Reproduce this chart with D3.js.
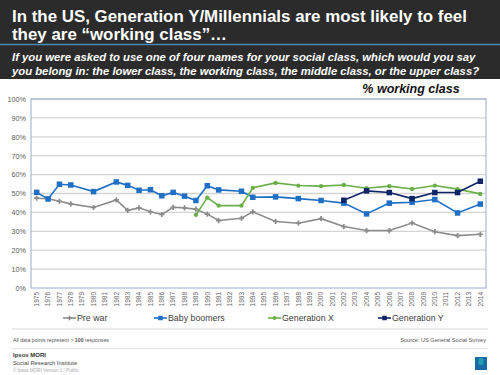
<!DOCTYPE html>
<html>
<head>
<meta charset="utf-8">
<script src="https://cdn.jsdelivr.net/npm/d3@7"></script>
<style>
  body { margin: 0; background: #fff; }
  svg { display: block; font-family: Arial, "Liberation Sans", sans-serif; }
</style>
</head>
<body>
<svg id="chart"></svg>
<script>
// survey years shown on the axis
const years = d3.range(1975, 2015).map(String);

// % working class by generation, [year, value]
const preWar = [[1975,47.5],[1976,47.2],[1977,45.9],[1978,44.5],[1980,42.6],[1982,46.6],[1983,41.1],[1984,42.4],[1985,40.3],[1986,38.9],[1987,42.7],[1988,42.4],[1989,41.7],[1990,39.1],[1991,35.7],[1993,36.9],[1994,40.3],[1996,35.2],[1998,34.3],[2000,36.7],[2002,32.5],[2004,30.4],[2006,30.4],[2008,34.4],[2010,29.8],[2012,27.7],[2014,28.4]];
const babyBoomers = [[1975,50.6],[1976,47.1],[1977,54.9],[1978,54.5],[1980,51],[1982,56.1],[1983,54.3],[1984,51.7],[1985,52],[1986,48.8],[1987,50.6],[1988,48.6],[1989,46.3],[1990,54.1],[1991,51.9],[1993,51.2],[1994,48],[1996,48.2],[1998,47.3],[2000,46.3],[2002,44.9],[2004,39.2],[2006,44.9],[2008,45.4],[2010,46.8],[2012,39.7],[2014,44.4]];
const genX = [[1989,38.7],[1990,47.8],[1991,43.6],[1993,43.6],[1994,53],[1996,55.6],[1998,54.2],[2000,53.9],[2002,54.5],[2004,52.8],[2006,53.9],[2008,52.4],[2010,54.2],[2012,52.3],[2014,49.8]];
const genY = [[2002,46.4],[2004,51.4],[2006,50.5],[2008,47.3],[2010,50.5],[2012,50.5],[2014,56.5]];

const yTicks = d3.range(0, 101, 10);

const series = [
  { name: "Pre war", data: preWar, color: "#8c8c8c", shape: "cross" },
  { name: "Baby boomers", data: babyBoomers, color: "#1f6fc5", shape: "square" },
  { name: "Generation X", data: genX, color: "#6aaf4a", shape: "circle" },
  { name: "Generation Y", data: genY, color: "#0f2466", shape: "square" }
];

const W = 500, H = 375;
const plot = { left: 31, right: 486, top: 99, bottom: 288 };

const svg = d3.select("#chart").attr("width", W).attr("height", H);

// header band
svg.append("rect").attr("x", 0).attr("y", 0).attr("width", W).attr("height", 79).attr("fill", "#2b2b2b");
svg.append("line").attr("x1", 0).attr("x2", W).attr("y1", 44.5).attr("y2", 44.5)
  .attr("stroke", "#4a86b4").attr("stroke-width", 1.5);

const title = svg.append("text").attr("fill", "#fff").attr("font-size", 16.9).attr("font-weight", "bold");
title.append("tspan").attr("x", 12).attr("y", 22).text("In the US, Generation Y/Millennials are most likely to feel");
title.append("tspan").attr("x", 12).attr("y", 40).text("they are \u201cworking class\u201d\u2026");

const sub = svg.append("text").attr("fill", "#fff").attr("font-size", 11.3)
  .attr("font-weight", "bold").attr("font-style", "italic");
sub.append("tspan").attr("x", 12).attr("y", 61).text("If you were asked to use one of four names for your social class, which would you say");
sub.append("tspan").attr("x", 12).attr("y", 74.5).text("you belong in: the lower class, the working class, the middle class, or the upper class?");

svg.append("text").attr("x", 411).attr("y", 93).attr("text-anchor", "middle")
  .attr("font-size", 12.5).attr("font-weight", "bold").attr("font-style", "italic")
  .attr("fill", "#111").text("% working class");

// scales
const x = d3.scaleBand().domain(years).range([plot.left, plot.right]);
const y = d3.scaleLinear().domain([0, 100]).range([plot.bottom, plot.top]);
const cx = yr => x(String(yr)) + x.bandwidth() / 2;

// gridlines
svg.append("g").selectAll("line").data(yTicks.filter(d => d > 0)).join("line")
  .attr("x1", plot.left).attr("x2", plot.right)
  .attr("y1", d => y(d)).attr("y2", d => y(d))
  .attr("stroke", "#d4d4d4").attr("stroke-width", 1.3);

// frame
svg.append("rect").attr("x", plot.left).attr("y", plot.top)
  .attr("width", plot.right - plot.left).attr("height", plot.bottom - plot.top)
  .attr("fill", "none").attr("stroke", "#9aaccb").attr("stroke-width", 1);

// y axis
const yAxis = svg.append("g").attr("transform", `translate(${plot.left},0)`)
  .call(d3.axisLeft(y).tickValues(yTicks).tickFormat(d => d + "%").tickSize(0).tickPadding(5));
yAxis.select(".domain").remove();
yAxis.selectAll("text").attr("font-size", 7.2).attr("fill", "#595959").attr("font-family", "Arial, sans-serif");

// x axis
const xAxis = svg.append("g").attr("transform", `translate(0,${plot.bottom})`)
  .call(d3.axisBottom(x).tickSize(0));
xAxis.select(".domain").remove();
xAxis.selectAll("text")
  .attr("font-size", 6.5).attr("fill", "#666").attr("font-family", "Arial, sans-serif")
  .attr("transform", "rotate(-90)")
  .attr("text-anchor", "end")
  .attr("x", -4).attr("y", 0).attr("dy", "0.35em");

// marker helper
function marker(g, shape, color, size) {
  if (shape === "square") {
    g.append("rect").attr("x", -size / 2).attr("y", -size / 2).attr("width", size).attr("height", size).attr("fill", color);
  } else if (shape === "circle") {
    g.append("circle").attr("r", size / 2.3).attr("fill", color);
  } else {
    g.append("path").attr("d", d3.symbol(d3.symbolCross, size * size * 0.6)()).attr("fill", color);
  }
}

const line = d3.line().x(d => cx(d[0])).y(d => y(d[1]));

series.forEach(s => {
  svg.append("path").datum(s.data).attr("d", line)
    .attr("fill", "none").attr("stroke", s.color).attr("stroke-width", 1.6);
  svg.append("g").selectAll("g").data(s.data).join("g")
    .attr("transform", d => `translate(${cx(d[0])},${y(d[1])})`)
    .each(function () { marker(d3.select(this), s.shape, s.color, s.shape === "square" ? 5.5 : 5); });
});

// legend
const legendX = [63, 154, 268, 378];
const leg = svg.append("g").selectAll("g").data(series).join("g")
  .attr("transform", (d, i) => `translate(${legendX[i]},318)`);
leg.append("line").attr("x1", 0).attr("x2", 13).attr("stroke", d => d.color).attr("stroke-width", 1.6);
leg.each(function (d) {
  const m = d3.select(this).append("g").attr("transform", "translate(6.5,0)");
  marker(m, d.shape, d.color, 4.5);
});
leg.append("text").attr("x", 14).attr("y", 0).attr("dy", "0.35em")
  .attr("font-size", 8.8).attr("fill", "#404040").text(d => d.name);

// footer
svg.append("line").attr("x1", 12).attr("x2", 488).attr("y1", 329).attr("y2", 329).attr("stroke", "#d9d9d9");
svg.append("line").attr("x1", 12).attr("x2", 488).attr("y1", 348.5).attr("y2", 348.5).attr("stroke", "#e3e3e3");
const note = svg.append("text").attr("x", 13).attr("y", 342).attr("font-size", 5.2).attr("fill", "#555");
note.append("tspan").text("All data points represent  > ");
note.append("tspan").attr("font-weight", "bold").text("100");
note.append("tspan").text(" responses");
svg.append("text").attr("x", 486).attr("y", 342).attr("text-anchor", "end")
  .attr("font-size", 5.6).attr("fill", "#555").text("Source: US General Social Survey");
svg.append("text").attr("x", 13).attr("y", 357).attr("font-size", 6).attr("font-weight", "bold").attr("fill", "#333").text("Ipsos MORI");
svg.append("text").attr("x", 13).attr("y", 365).attr("font-size", 5.8).attr("fill", "#444").text("Social Research Institute");
svg.append("text").attr("x", 13).attr("y", 372).attr("font-size", 4.6).attr("fill", "#aaa").text("\u00a9 Ipsos MORI   Version 1 | Public");

// logo
svg.append("rect").attr("x", 475).attr("y", 357).attr("width", 12).attr("height", 13).attr("fill", "#1a6aa8");
svg.append("rect").attr("x", 478.5).attr("y", 358).attr("width", 5).attr("height", 7).attr("rx", 2).attr("fill", "#20a0b0");
</script>
</body>
</html>
